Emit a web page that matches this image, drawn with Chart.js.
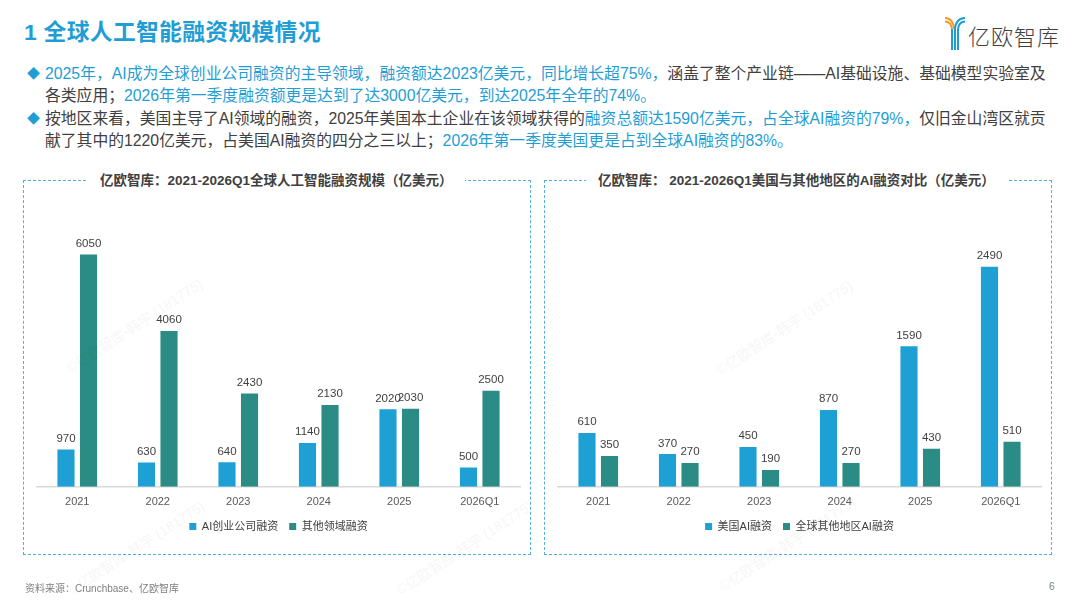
<!DOCTYPE html>
<html lang="zh">
<head>
  <meta charset="UTF-8">
  <title>全球人工智能融资规模情况</title>
  <script src="https://cdn.jsdelivr.net/npm/chart.js"></script>
  <style>
    html, body {
      margin: 0;
      padding: 0;
      width: 1080px;
      height: 608px;
      background: #fff;
      overflow: hidden;
      font-family: "Liberation Sans", "Noto Sans CJK SC", sans-serif;
    }
    #page { position: relative; width: 1080px; height: 608px; }
    #title {
      position: absolute; left: 24px; top: 14px;
      font-size: 22.8px; font-weight: bold; color: #1f9ed5;
      letter-spacing: 0.3px;
    }
    #logo { position: absolute; left: 944px; top: 15px; }
    #logoText {
      position: absolute; left: 968px; top: 19px;
      font-size: 22px; color: #404040; letter-spacing: 1px;
      font-family: "Noto Sans CJK SC", sans-serif; font-weight: 300;
    }
    .para {
      position: absolute; left: 27px; font-size: 15.8px; color: #404040;
      line-height: 22px;
    }
    .para .line { white-space: nowrap; display: block; padding-left: 18px; position: relative; }
    .para .dia {
      position: absolute; left: 0; top: 0; color: #1f9ed5; font-size: 13px;
    }
    .hl { color: #1f9ed5; }
    .box {
      position: absolute; top: 180px; width: 508px; height: 375px;
      border: 1.5px dashed #55b0dc; box-sizing: border-box;
    }
    .boxTitle {
      position: absolute; top: 172px; height: 18px; line-height: 18px;
      background: #fff; padding: 0 12px;
      font-size: 13.5px; font-weight: bold; color: #404040; white-space: nowrap;
    }
    .chartWrap { position: absolute; }
    #source { position: absolute; left: 25px; top: 580px; font-size: 10px; color: #7f7f7f; }
    #pageNo { position: absolute; left: 1049px; top: 581px; font-size: 10px; color: #7f7f7f; }
    .wm {
      position: absolute; font-size: 14px; color: rgba(0,0,0,0.045);
      transform: rotate(-33deg); transform-origin: left top; white-space: nowrap;
      pointer-events: none;
    }
  </style>
</head>
<body>
<div id="page">
  <div id="title">1 全球人工智能融资规模情况</div>
  <svg id="logo" width="22" height="36" viewBox="0 0 22 36">
    <path d="M1 3 Q9 3 10 14" stroke="#f39a2b" stroke-width="2" fill="none"/>
    <path d="M1 6.5 Q7 6.5 8 14" stroke="#f39a2b" stroke-width="2" fill="none"/>
    <path d="M21 3 Q12 3 11 14 L11 35" stroke="#1f9ed5" stroke-width="2" fill="none"/>
    <path d="M21 6.5 Q15 6.5 14 14 L14 35" stroke="#1f9ed5" stroke-width="2" fill="none"/>
    <path d="M8 14 L8 35" stroke="#1f9ed5" stroke-width="2" fill="none"/>
  </svg>
  <div id="logoText">亿欧智库</div>

  <div class="para" style="top:63px">
    <span class="line"><span class="dia">◆</span><span class="hl">2025年，AI成为全球创业公司融资的主导领域，融资额达2023亿美元，同比增长超75%，</span>涵盖了整个产业链——AI基础设施、基础模型实验室及</span>
    <span class="line">各类应用；<span class="hl">2026年第一季度融资额更是达到了达3000亿美元，到达2025年全年的74%。</span></span>
  </div>
  <div class="para" style="top:108px">
    <span class="line"><span class="dia">◆</span>按地区来看，美国主导了AI领域的融资，2025年美国本土企业在该领域获得的<span class="hl">融资总额达1590亿美元，占全球AI融资的79%，</span>仅旧金山湾区就贡</span>
    <span class="line">献了其中的1220亿美元，占美国AI融资的四分之三以上；<span class="hl">2026年第一季度美国更是占到全球AI融资的83%。</span></span>
  </div>

  <div class="box" style="left:23px"></div>
  <div class="boxTitle" style="left:88px">亿欧智库：2021-2026Q1全球人工智能融资规模（亿美元）</div>
  <div class="chartWrap" style="left:24px; top:200px; width:508px; height:342px"><canvas id="leftChart"></canvas></div>

  <div class="box" style="left:544px"></div>
  <div class="boxTitle" style="left:586px">亿欧智库： 2021-2026Q1美国与其他地区的AI融资对比（亿美元）</div>
  <div class="chartWrap" style="left:545px; top:200px; width:508px; height:342px"><canvas id="rightChart"></canvas></div>

  <div class="wm" style="left:62px; top:360px">©亿欧智库-韩宇 (181775)</div>
  <div class="wm" style="left:712px; top:362px">©亿欧智库-韩宇 (181775)</div>
  <div class="wm" style="left:64px; top:582px">©亿欧智库-韩宇 (181775)</div>
  <div class="wm" style="left:392px; top:582px">©亿欧智库-韩宇 (181775)</div>
  <div class="wm" style="left:715px; top:578px">©亿欧智库-韩宇 (181775)</div>

  <div id="source">资料来源：Crunchbase、亿欧智库</div>
  <div id="pageNo">6</div>
</div>

<script>
  // 数据
  const years = ['2021', '2022', '2023', '2024', '2025', '2026Q1'];

  const startupFunding = [970, 630, 640, 1140, 2020, 500];     // AI创业公司融资
  const otherFunding   = [6050, 4060, 2430, 2130, 2030, 2500]; // 其他领域融资

  const usFunding      = [610, 370, 450, 870, 1590, 2490];     // 美国AI融资
  const restFunding    = [350, 270, 190, 270, 430, 510];       // 全球其他地区AI融资

  const BLUE = '#1fa0d5';
  const TEAL = '#2a8c84';
  const FONT = '"Liberation Sans", "Noto Sans CJK SC", sans-serif';

  // 柱顶数值标签
  const valueLabels = {
    id: 'valueLabels',
    afterDatasetsDraw(chart) {
      const ctx = chart.ctx;
      ctx.save();
      ctx.font = '11.5px ' + FONT;
      ctx.fillStyle = '#404040';
      ctx.textAlign = 'center';
      ctx.textBaseline = 'bottom';
      chart.data.datasets.forEach((ds, i) => {
        chart.getDatasetMeta(i).data.forEach((bar, j) => {
          ctx.fillText(ds.data[j], bar.x, bar.y - 5);
        });
      });
      ctx.restore();
    }
  };

  function makeChart(id, labelA, dataA, labelB, dataB, yMax) {
    return new Chart(document.getElementById(id), {
      type: 'bar',
      data: {
        labels: years,
        datasets: [
          { label: labelA, data: dataA, backgroundColor: BLUE },
          { label: labelB, data: dataB, backgroundColor: TEAL }
        ]
      },
      options: {
        responsive: true,
        maintainAspectRatio: false,
        animation: false,
        categoryPercentage: 0.56,
        barPercentage: 0.76,
        layout: { padding: { left: 13, right: 12, top: 20, bottom: 0 } },
        plugins: {
          legend: {
            position: 'bottom',
            labels: {
              boxWidth: 7, boxHeight: 7, padding: 11,
              color: '#404040',
              font: { size: 11, family: FONT }
            }
          },
          tooltip: { enabled: false }
        },
        scales: {
          x: {
            grid: { display: false },
            border: { color: '#d9d9d9', width: 1.5 },
            ticks: { color: '#595959', font: { size: 11, family: FONT }, padding: 1 }
          },
          y: { display: false, min: 0, max: yMax }
        }
      },
      plugins: [valueLabels]
    });
  }

  makeChart('leftChart', 'AI创业公司融资', startupFunding, '其他领域融资', otherFunding, 6950);
  makeChart('rightChart', '美国AI融资', usFunding, '全球其他地区AI融资', restFunding, 3020);
</script>
</body>
</html>
